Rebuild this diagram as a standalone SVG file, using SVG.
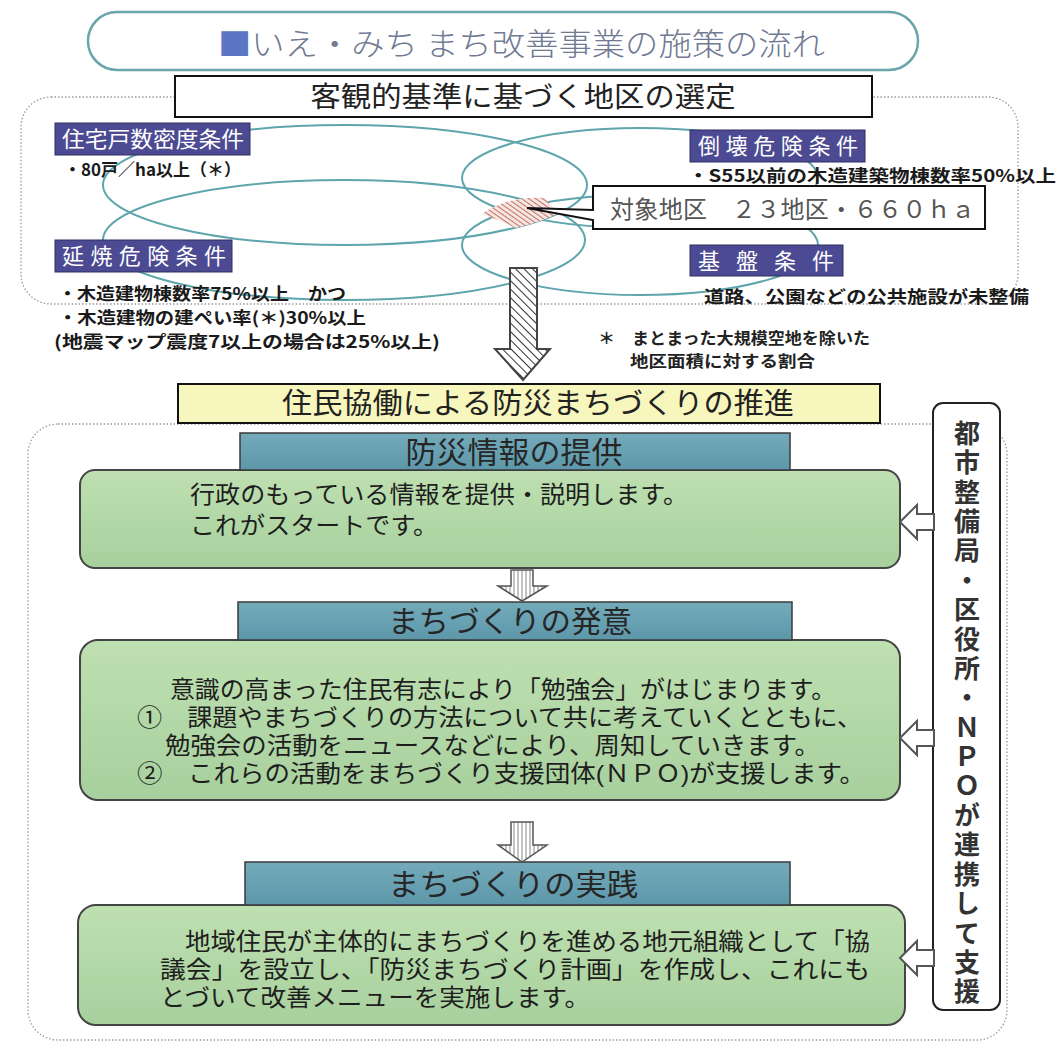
<svg xmlns="http://www.w3.org/2000/svg" width="1060" height="1048" viewBox="0 0 1060 1048">
<defs>
<style>
.jp{font-family:"Noto Sans CJK JP","Noto Sans",sans-serif;}
.jb{font-family:"Liberation Sans","Noto Sans CJK JP",sans-serif;}
.ell{fill:none;stroke:#5ea5ad;stroke-width:2;}
.lbl{fill:#4b4a92;stroke:#2e2e60;stroke-width:1;}
.lbltx{fill:#ffffff;font-size:22px;}
.sub{fill:#1a1a1a;font-size:17px;font-weight:bold;}
.hdr{fill:url(#hdrg);stroke:#3a3a3a;stroke-width:1.5;}
.hdrtx{fill:#262626;font-size:30px;text-anchor:middle;}
.grn{fill:url(#grng);stroke:#444;stroke-width:2;}
.body{fill:#1e1e1e;font-size:24px;}
.side{fill:#ffffff;stroke:#555;stroke-width:2;}
.down{fill:url(#vstripe);stroke:#555;stroke-width:1.5;}
.dots{fill:none;stroke:#9a9a9a;stroke-width:1.3;stroke-dasharray:1.5 2;}
</style>
<linearGradient id="grng" x1="0" y1="0" x2="0" y2="1">
<stop offset="0" stop-color="#bfe0b1"/>
<stop offset="1" stop-color="#a7d09d"/>
</linearGradient>
<linearGradient id="hdrg" x1="0" y1="0" x2="0" y2="1">
<stop offset="0" stop-color="#74abbb"/>
<stop offset="1" stop-color="#5c97a9"/>
</linearGradient>
<pattern id="hatch" width="6" height="6" patternUnits="userSpaceOnUse" patternTransform="rotate(-45)">
<rect width="6" height="6" fill="#ffffff"/>
<line x1="0" y1="0" x2="0" y2="6" stroke="#333" stroke-width="2"/>
</pattern>
<pattern id="redhatch" width="4" height="4" patternUnits="userSpaceOnUse" patternTransform="rotate(-55)">
<rect width="4" height="4" fill="#f4e6e0"/>
<line x1="0" y1="0" x2="0" y2="4" stroke="#b9473f" stroke-width="1.5"/>
</pattern>
<pattern id="vstripe" width="4" height="4" patternUnits="userSpaceOnUse">
<rect width="4" height="4" fill="#ffffff"/>
<line x1="2" y1="0" x2="2" y2="4" stroke="#888" stroke-width="1"/>
</pattern>
</defs>
<rect width="1060" height="1048" fill="#ffffff"/>

<g id="title">
<rect x="88" y="12" width="830" height="58" rx="29" fill="#ffffff" stroke="#6aa5ab" stroke-width="2.5"/>
<text class="jp" x="218" y="55" font-size="31" font-weight="300" fill="#707a92" textLength="607" lengthAdjust="spacingAndGlyphs"><tspan fill="#5b77c4">■</tspan>いえ・みち まち改善事業の施策の流れ</text>
</g>

<g id="regions">
<rect class="dots" x="21" y="97" width="997" height="207" rx="30"/>
<rect class="dots" x="28" y="424" width="979" height="616" rx="30"/>
</g>

<g id="venn">
<ellipse class="ell" cx="345" cy="185" rx="242" ry="60"/>
<ellipse class="ell" cx="344" cy="240" rx="241" ry="60"/>
<ellipse class="ell" cx="640" cy="178" rx="178" ry="50"/>
<ellipse class="ell" cx="640" cy="245" rx="178" ry="50"/>
<path d="M482,214 C495,205 515,196 545,198 L557,214 C540,222 525,226 515,228 C505,222 492,218 482,214 Z" fill="url(#redhatch)" stroke="none"/>
</g>

<g id="selection">
<rect x="175" y="76" width="697" height="41" fill="#ffffff" stroke="#111" stroke-width="2"/>
<text class="jp" x="523" y="107" font-size="28" fill="#222" text-anchor="middle" textLength="425" lengthAdjust="spacingAndGlyphs">客観的基準に基づく地区の選定</text>
</g>

<g id="cond-density">
<rect class="lbl" x="55" y="123" width="195" height="32"/>
<text class="jp lbltx" x="62" y="147" textLength="182" lengthAdjust="spacingAndGlyphs">住宅戸数密度条件</text>
<text class="jp sub" x="64" y="176">・80戸／ha以上（＊）</text>
</g>

<g id="cond-collapse">
<rect class="lbl" x="690" y="130" width="175" height="32"/>
<text class="jp lbltx" x="698" y="154" textLength="160" lengthAdjust="spacing">倒壊危険条件</text>
<text class="jp sub" x="688" y="182" textLength="368" lengthAdjust="spacingAndGlyphs">・S55以前の木造建築物棟数率50%以上</text>
</g>

<g id="cond-fire">
<rect class="lbl" x="55" y="240" width="177" height="32"/>
<text class="jp lbltx" x="62" y="264" textLength="164" lengthAdjust="spacing">延焼危険条件</text>
<text class="jp sub"><tspan x="58" y="300" textLength="288" lengthAdjust="spacingAndGlyphs">・木造建物棟数率75%以上　かつ</tspan><tspan x="58" y="324" textLength="308" lengthAdjust="spacingAndGlyphs">・木造建物の建ぺい率(＊)30%以上</tspan><tspan x="54" y="348" textLength="386" lengthAdjust="spacingAndGlyphs">(地震マップ震度7以上の場合は25%以上)</tspan></text>
</g>

<g id="cond-infra">
<rect class="lbl" x="690" y="245" width="153" height="31"/>
<text class="jp lbltx" x="698" y="269" textLength="136" lengthAdjust="spacing">基盤条件</text>
<text class="jp sub" x="704" y="303" font-size="18" textLength="325" lengthAdjust="spacingAndGlyphs">道路、公園などの公共施設が未整備</text>
</g>

<g id="target">
<path d="M593,186 H985 V229 H593 V220 L527,208 L593,210 Z" fill="#ffffff" stroke="#111" stroke-width="2"/>
<text class="jp" x="610" y="218" font-size="24" fill="#555" textLength="365" lengthAdjust="spacing">対象地区　２３地区・６６０ｈａ</text>
</g>

<g id="note">
<text class="jp" font-size="16" font-weight="bold" fill="#222"><tspan x="598" y="344" textLength="272" lengthAdjust="spacingAndGlyphs">＊　まとまった大規模空地を除いた</tspan><tspan x="630" y="367" textLength="185" lengthAdjust="spacingAndGlyphs">地区面積に対する割合</tspan></text>
</g>

<g id="promotion">
<rect x="178" y="384" width="702" height="39" fill="#f6f6bd" stroke="#111" stroke-width="2"/>
<text class="jp" x="538" y="414" font-size="29" fill="#222" text-anchor="middle" textLength="512" lengthAdjust="spacingAndGlyphs">住民協働による防災まちづくりの推進</text>
</g>

<g id="step1">
<rect class="grn" x="80" y="470" width="820" height="98" rx="15"/>
<rect class="hdr" x="240" y="433" width="550" height="37"/>
<text class="jp hdrtx" x="514" y="463" textLength="217" lengthAdjust="spacingAndGlyphs">防災情報の提供</text>
<text class="jb body"><tspan x="190" y="503" textLength="498" lengthAdjust="spacingAndGlyphs">行政のもっている情報を提供・説明します。</tspan><tspan x="190" y="534" textLength="248" lengthAdjust="spacingAndGlyphs">これがスタートです。</tspan></text>
</g>

<g id="step2">
<rect class="grn" x="80" y="640" width="820" height="160" rx="18"/>
<rect class="hdr" x="238" y="602" width="554" height="38"/>
<text class="jp hdrtx" x="510" y="632" textLength="244" lengthAdjust="spacingAndGlyphs">まちづくりの発意</text>
<text class="jb body"><tspan x="170" y="698" textLength="666" lengthAdjust="spacingAndGlyphs">意識の高まった住民有志により「勉強会」がはじまります。</tspan><tspan x="137" y="726" textLength="725" lengthAdjust="spacingAndGlyphs">①　課題やまちづくりの方法について共に考えていくとともに、</tspan><tspan x="165" y="754" textLength="655" lengthAdjust="spacingAndGlyphs">勉強会の活動をニュースなどにより、周知していきます。</tspan><tspan x="137" y="782" textLength="728" lengthAdjust="spacingAndGlyphs">②　これらの活動をまちづくり支援団体(ＮＰＯ)が支援します。</tspan></text>
</g>

<g id="step3">
<rect class="grn" x="78" y="905" width="827" height="120" rx="18"/>
<rect class="hdr" x="245" y="862" width="545" height="43"/>
<text class="jp hdrtx" x="513" y="895" textLength="250" lengthAdjust="spacingAndGlyphs">まちづくりの実践</text>
<text class="jb body"><tspan x="185" y="950" textLength="685" lengthAdjust="spacingAndGlyphs">地域住民が主体的にまちづくりを進める地元組織として「協</tspan><tspan x="160" y="978" textLength="710" lengthAdjust="spacingAndGlyphs">議会」を設立し、「防災まちづくり計画」を作成し、これにも</tspan><tspan x="160" y="1006" textLength="430" lengthAdjust="spacingAndGlyphs">とづいて改善メニューを実施します。</tspan></text>
</g>

<g id="support">
<rect x="933" y="403" width="67" height="607" rx="10" fill="#ffffff" stroke="#222" stroke-width="2"/>
<text class="jp" x="967" y="420" font-size="26" font-weight="bold" fill="#333" writing-mode="vertical-rl" style="letter-spacing:3.4px">都市整備局・区役所・ＮＰＯが連携して支援</text>
</g>

<g id="connectors">
<polygon points="510,268 537,268 537,349 550,349 523,380 495,349 510,349" fill="url(#hatch)" stroke="#444" stroke-width="2"/>
<polygon class="down" points="511,570 533,570 533,586 547,586 522,601 498,586 511,586"/>
<polygon class="down" points="511,822 533,822 533,845 547,845 522,862 498,845 511,845"/>
<polygon class="side" points="900,522 917,505 917,514 934,514 934,530 917,530 917,539"/>
<polygon class="side" points="900,738 917,721 917,730 934,730 934,746 917,746 917,755"/>
<polygon class="side" points="900,958 917,941 917,950 934,950 934,966 917,966 917,975"/>
</g>
</svg>
